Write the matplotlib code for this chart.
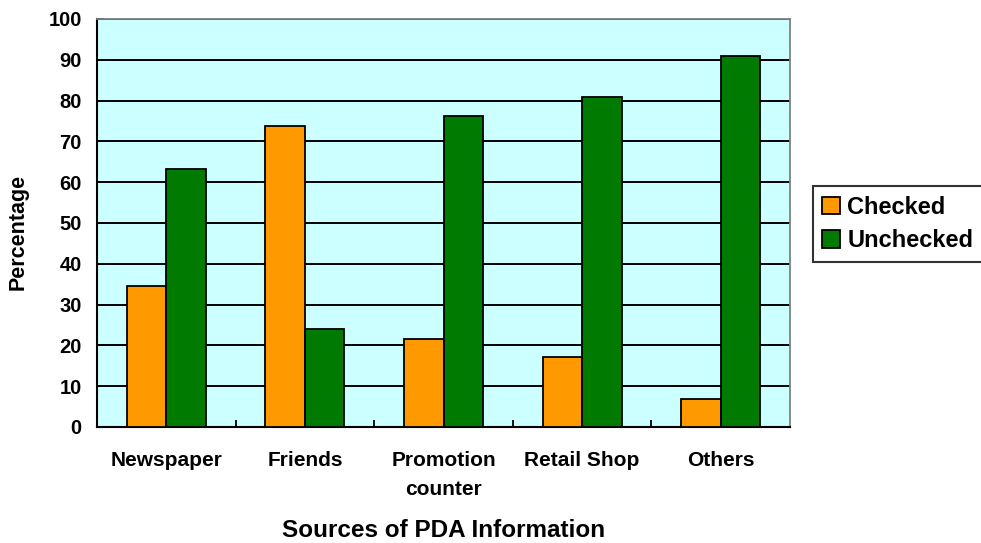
import matplotlib.pyplot as plt
import numpy as np

plt.rcParams["font.family"] = ["Liberation Sans", "DejaVu Sans"]
plt.rcParams["font.weight"] = "bold"

categories = ["Newspaper", "Friends", "Promotion\ncounter", "Retail Shop", "Others"]
checked = [34.6, 73.8, 21.6, 17.2, 6.8]
unchecked = [63.2, 24.0, 76.2, 80.9, 91.0]

fig = plt.figure(figsize=(9.81, 5.43), dpi=100)
ax = fig.add_axes([97 / 981, 1 - 427 / 543, 693 / 981, 408 / 543])
ax.set_facecolor("#CCFFFF")

x = np.arange(len(categories))
w = 0.285
ax.bar(x - w / 2, checked, w, color="#FF9900", edgecolor="black", linewidth=1.3,
       label="Checked", zorder=3)
ax.bar(x + w / 2, unchecked, w, color="#007A00", edgecolor="black", linewidth=1.3,
       label="Unchecked", zorder=3)

ax.set_xlim(-0.5, len(categories) - 0.5)
ax.set_ylim(0, 100)
ax.set_yticks(range(0, 101, 10))
ax.yaxis.grid(True, color="black", linewidth=1.4, zorder=1)
ax.set_axisbelow(True)

ax.set_xticks(x)
ax.set_xticklabels(categories, fontsize=15, fontweight="bold", linespacing=1.7)
ax.tick_params(axis="x", length=0, pad=17)
ax.set_xticks(np.arange(0.5, len(categories) - 1, 1), minor=True)
ax.tick_params(axis="x", which="minor", direction="in", length=5, width=1.3)
ax.tick_params(axis="y", direction="in", length=5, width=1.3, labelsize=14.5, pad=11)
for lab in ax.get_yticklabels():
    lab.set_fontweight("bold")

for s in ["top", "right"]:
    ax.spines[s].set_color("#808080")
    ax.spines[s].set_linewidth(1.3)
for s in ["left", "bottom"]:
    ax.spines[s].set_color("black")
    ax.spines[s].set_linewidth(1.5)

ax.set_ylabel("Percentage", fontsize=15.5, fontweight="bold")
ax.yaxis.set_label_coords(-0.0986, 0.478)
ax.set_xlabel("Sources of PDA Information", fontsize=17.5, fontweight="bold", labelpad=14)

leg = fig.legend(loc="center left", bbox_to_anchor=(813 / 981, 1 - 224 / 543),
                 frameon=True, fancybox=False, edgecolor="black",
                 prop={"weight": "bold", "size": 17}, handlelength=0.75,
                 handleheight=0.75, handletextpad=0.3, borderpad=0.4,
                 labelspacing=0.45, borderaxespad=0)
leg.get_frame().set_linewidth(1.5)

fig.savefig("out.png", dpi=100)
